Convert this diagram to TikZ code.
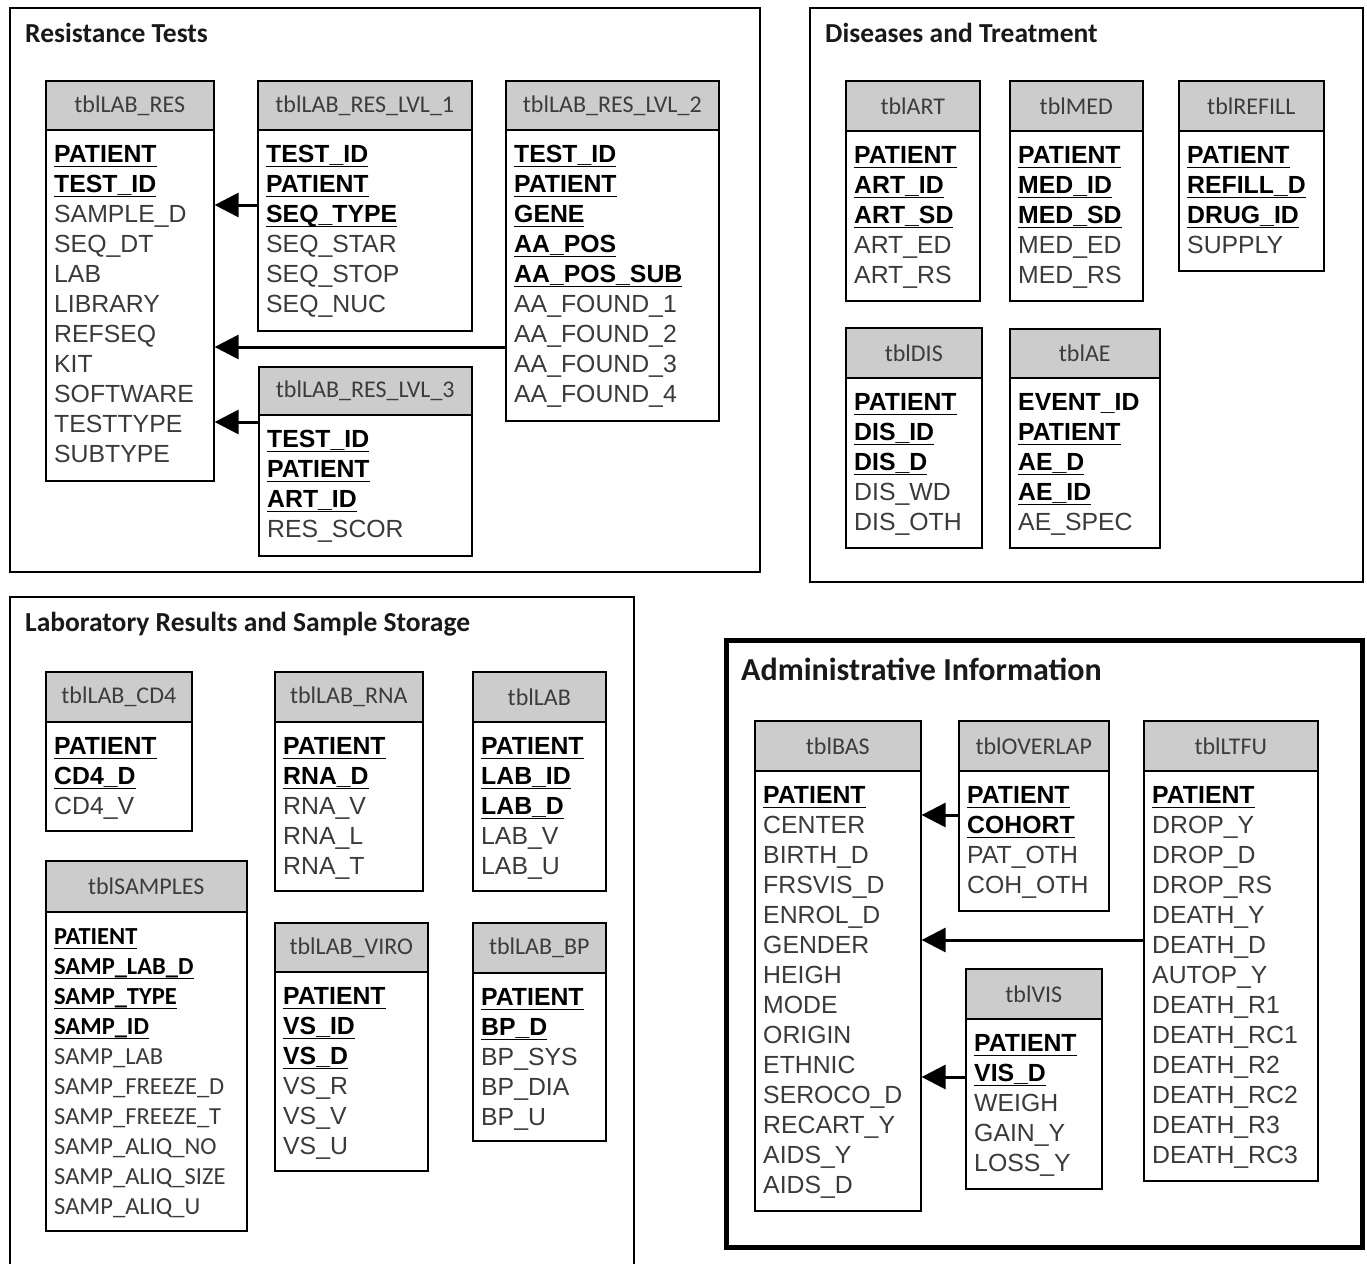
\documentclass[tikz,border=0pt]{standalone}
\usepackage{fontspec}
\setmainfont{Liberation Sans}
\newfontfamily\carlito{Carlito}
\usetikzlibrary{arrows.meta}
\definecolor{hdrgray}{HTML}{CCCCCC}
\definecolor{fldtext}{HTML}{3A3A3A}
\definecolor{hdrtext}{HTML}{3C3C3C}
\newcommand{\K}[1]{{\bfseries\color{black}\setbox0\hbox{#1}\rlap{\rule[-4.6pt]{\wd0}{1.6pt}}\box0}}
\newcommand{\B}[1]{{\bfseries\color{black}#1}}
\tikzset{
  hdr/.style={draw=black, line width=1.6pt, fill=hdrgray, inner sep=0pt, font=\carlito\fontsize{24}{28}\selectfont, text=hdrtext},
  bodybox/.style={draw=black, line width=1.6pt, fill=white, inner sep=0pt},
  fld/.style={inner sep=0pt, font=\fontsize{24.8}{28}\selectfont, text=fldtext},
  sfld/.style={inner sep=0pt, font=\carlito\fontsize{24.5}{28}\selectfont, text=fldtext},
  panel/.style={draw=black, line width=1.6pt},
  title/.style={inner sep=0pt, anchor=base west, font=\carlito\bfseries\fontsize{27.5}{32}\selectfont, text=black!90},
  link/.style={line width=3pt, -{Triangle[length=24pt,width=24pt]}}
}
% name, x1, y1, x2, yh, y2, title, field style, fields
\newcommand{\dbtable}[9]{%
  \node[hdr, anchor=north west, minimum width={(#4-#2)*1pt}, minimum height={(#5-#3)*1pt}] (#1-h) at (#2,#3) {#7};
  \node[bodybox, anchor=north west, minimum width={(#4-#2)*1pt}, minimum height={(#6-#5)*1pt}] (#1) at (#2,#5) {};
  \foreach \f [count=\i from 0] in {#9} {
    \node[#8, anchor=base west] (#1-f\i) at ({#2+9}, {#5+33.5+30*\i}) {\f};
  }
}
\begin{document}
\begin{tikzpicture}[x=1pt,y=-1pt]
\clip (0,0) rectangle (1367,1263);
\fill[white] (0,0) rectangle (1367,1263);
% panels
\draw[panel] (10,8) rectangle (760,572);
\draw[panel] (810,8) rectangle (1363,582);
\draw[panel] (10,597) rectangle (634,1300);
\draw[draw=black, line width=5pt] (726,640) rectangle (1362,1247);
\node[title] (t1) at (25,42) {Resistance Tests};
\node[title] (t2) at (825,42) {Diseases and Treatment};
\node[title] (t3) at (25,631) {Laboratory Results and Sample Storage};
\node[title, font=\carlito\bfseries\fontsize{32}{36}\selectfont] (t4) at (741,680) {Administrative Information};
% Resistance tests
\dbtable{lres}{45}{80}{213}{129}{480}{tblLAB\_RES}{fld}{\K{PATIENT},\K{TEST\_ID},SAMPLE\_D,SEQ\_DT,LAB,LIBRARY,REFSEQ,KIT,SOFTWARE,TESTTYPE,SUBTYPE}
\dbtable{lvlone}{257}{80}{471}{129}{330}{tblLAB\_RES\_LVL\_1}{fld}{\K{TEST\_ID},\K{PATIENT},\K{SEQ\_TYPE},SEQ\_STAR,SEQ\_STOP,SEQ\_NUC}
\dbtable{lvltwo}{505}{80}{718}{129}{420}{tblLAB\_RES\_LVL\_2}{fld}{\K{TEST\_ID},\K{PATIENT},\K{GENE},\K{AA\_POS},\K{AA\_POS\_SUB},AA\_FOUND\_1,AA\_FOUND\_2,AA\_FOUND\_3,AA\_FOUND\_4}
\dbtable{lvlthree}{258}{366}{471}{414}{555}{tblLAB\_RES\_LVL\_3}{fld}{\K{TEST\_ID},\K{PATIENT},\K{ART\_ID},RES\_SCOR}
\coordinate (c1) at (0,205);
\coordinate (c2) at (0,347);
\coordinate (c3) at (0,422);
\draw[link] (lvlone.west |- c1) -- (lres.east |- c1);
\draw[link] (lvltwo.west |- c2) -- (lres.east |- c2);
\draw[link] (lvlthree.west |- c3) -- (lres.east |- c3);
% Diseases and treatment
\dbtable{art}{845}{80}{979}{130}{300}{tblART}{fld}{\K{PATIENT},\K{ART\_ID},\K{ART\_SD},ART\_ED,ART\_RS}
\dbtable{med}{1009}{80}{1142}{130}{300}{tblMED}{fld}{\K{PATIENT},\K{MED\_ID},\K{MED\_SD},MED\_ED,MED\_RS}
\dbtable{refill}{1178}{80}{1323}{130}{270}{tblREFILL}{fld}{\K{PATIENT},\K{REFILL\_D},\K{DRUG\_ID},SUPPLY}
\dbtable{dis}{845}{327}{981}{377}{547}{tblDIS}{fld}{\K{PATIENT},\K{DIS\_ID},\K{DIS\_D},DIS\_WD,DIS\_OTH}
\dbtable{ae}{1009}{328}{1159}{377}{547}{tblAE}{fld}{\B{EVENT\_ID},\K{PATIENT},\K{AE\_D},\K{AE\_ID},AE\_SPEC}
% Laboratory
\dbtable{cd}{45}{671}{191}{721}{830}{tblLAB\_CD4}{fld}{\K{PATIENT},\K{CD4\_D},CD4\_V}
\dbtable{rna}{274}{671}{422}{721}{890}{tblLAB\_RNA}{fld}{\K{PATIENT},\K{RNA\_D},RNA\_V,RNA\_L,RNA\_T}
\dbtable{lab}{472}{671}{605}{721}{890}{tblLAB}{fld}{\K{PATIENT},\K{LAB\_ID},\K{LAB\_D},LAB\_V,LAB\_U}
\dbtable{samp}{45}{860}{246}{911}{1230}{tblSAMPLES}{sfld}{\K{PATIENT},\K{SAMP\_LAB\_D},\K{SAMP\_TYPE},\K{SAMP\_ID},SAMP\_LAB,SAMP\_FREEZE\_D,SAMP\_FREEZE\_T,SAMP\_ALIQ\_NO,SAMP\_ALIQ\_SIZE,SAMP\_ALIQ\_U}
\dbtable{viro}{274}{922}{427}{971}{1170}{tblLAB\_VIRO}{fld}{\K{PATIENT},\K{VS\_ID},\K{VS\_D},VS\_R,VS\_V,VS\_U}
\dbtable{bp}{472}{922}{605}{972}{1140}{tblLAB\_BP}{fld}{\K{PATIENT},\K{BP\_D},BP\_SYS,BP\_DIA,BP\_U}
% Administrative
\dbtable{bas}{754}{720}{920}{770}{1210}{tblBAS}{fld}{\K{PATIENT},CENTER,BIRTH\_D,FRSVIS\_D,ENROL\_D,GENDER,HEIGH,MODE,ORIGIN,ETHNIC,SEROCO\_D,RECART\_Y,AIDS\_Y,AIDS\_D}
\dbtable{ovl}{958}{720}{1108}{770}{910}{tblOVERLAP}{fld}{\K{PATIENT},\K{COHORT},PAT\_OTH,COH\_OTH}
\dbtable{ltfu}{1143}{720}{1317}{770}{1180}{tblLTFU}{fld}{\K{PATIENT},DROP\_Y,DROP\_D,DROP\_RS,DEATH\_Y,DEATH\_D,AUTOP\_Y,DEATH\_R1,DEATH\_RC1,DEATH\_R2,DEATH\_RC2,DEATH\_R3,DEATH\_RC3}
\dbtable{vis}{965}{968}{1101}{1018}{1188}{tblVIS}{fld}{\K{PATIENT},\K{VIS\_D},WEIGH,GAIN\_Y,LOSS\_Y}
\coordinate (c4) at (0,815);
\coordinate (c5) at (0,940);
\coordinate (c6) at (0,1077);
\draw[link] (ovl.west |- c4) -- (bas.east |- c4);
\draw[link] (ltfu.west |- c5) -- (bas.east |- c5);
\draw[link] (vis.west |- c6) -- (bas.east |- c6);
\end{tikzpicture}
\end{document}
